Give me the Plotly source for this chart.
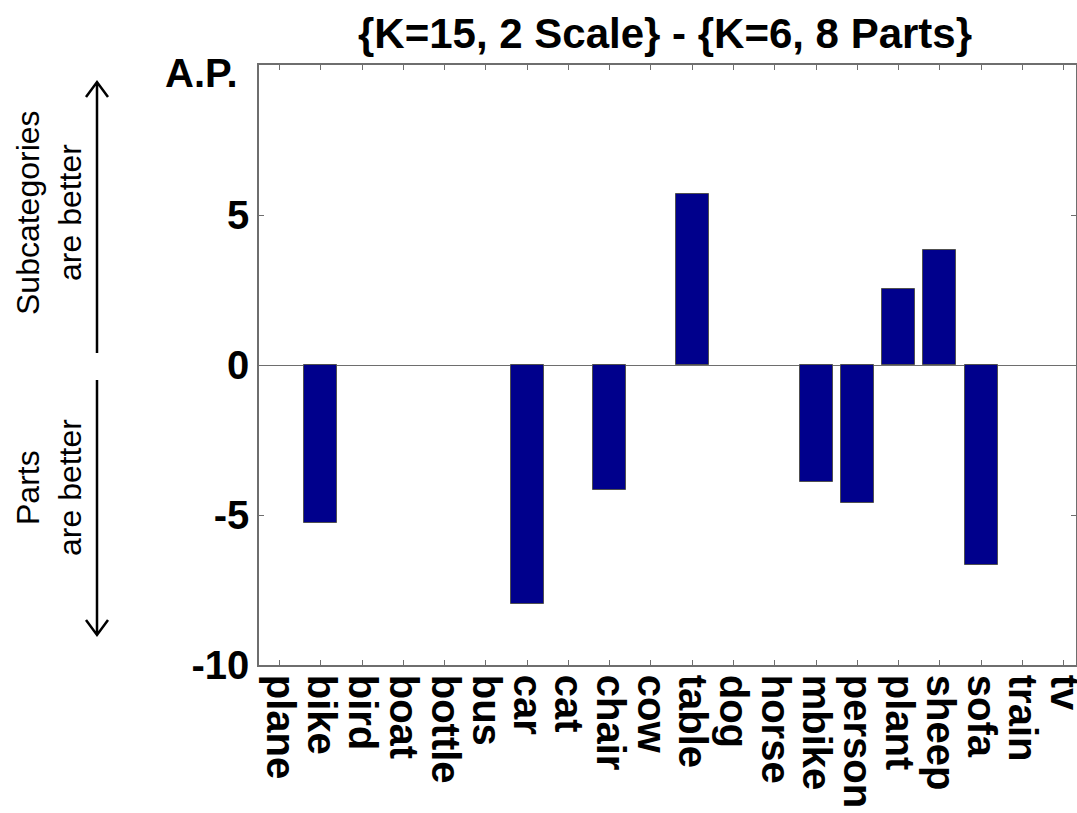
import plotly.graph_objects as go

# Per-class AP difference: {K=15, 2 Scale} minus {K=6, 8 Parts}
categories = ["plane", "bike", "bird", "boat", "bottle", "bus", "car", "cat",
              "chair", "cow", "table", "dog", "horse", "mbike", "person",
              "plant", "sheep", "sofa", "train", "tv"]
ap_diff = [0.0, -5.28, 0.0, 0.0, 0.0, 0.0, -7.97, 0.0,
           -4.17, 0.0, 5.69, 0.0, 0.0, -3.9, -4.6,
           2.55, 3.83, -6.66, 0.0, 0.0]
y_tick_vals = [-10, -5, 0, 5, 10]
y_tick_text = ["-10", "-5", "0", "5", ""]

W, H = 1077, 813
L, R, T, B = 259, 1, 65, 148
PW, PH = W - L - R, H - T - B

FONT = "Liberation Sans, Arial, Helvetica, sans-serif"
AXIS_COL = "#6e6e6e"
BAR_COL = "rgb(0,0,140)"

x_pos = list(range(1, len(categories) + 1))
unit_px = 41.26  # horizontal pixels per category slot


def px_x(x):
    return (x - L) / PW


def px_y(y):
    return (H - B - y) / PH


# empty bars collapse onto the baseline, so give them no outline
edge_w = [1 if v != 0 else 0 for v in ap_diff]

fig = go.Figure()
fig.add_trace(go.Bar(
    x=x_pos, y=ap_diff, width=0.8,
    marker=dict(color=BAR_COL, line=dict(color="#505050", width=edge_w)),
    showlegend=False, hoverinfo="skip",
))

axis_common = dict(
    showline=True, linecolor=AXIS_COL, linewidth=1.5, mirror="allticks",
    ticks="inside", ticklen=5, tickcolor=AXIS_COL, tickwidth=1,
    showgrid=False,
    tickfont=dict(family=FONT, size=40, color="black", weight="bold"),
)

fig.update_layout(
    width=W, height=H,
    margin=dict(l=L, r=R, t=T, b=B, autoexpand=False),
    paper_bgcolor="white", plot_bgcolor="white",
    bargap=0,
    xaxis=dict(
        range=[0.5, 0.5 + PW / unit_px],
        tickmode="array", tickvals=x_pos, ticktext=categories,
        tickangle=90, zeroline=False, ticklabeloverflow="allow",
        **axis_common,
    ),
    yaxis=dict(
        range=[-10, 10], tickmode="array",
        tickvals=y_tick_vals, ticktext=y_tick_text,
        zeroline=True, zerolinecolor=AXIS_COL, zerolinewidth=1,
        ticklabelstandoff=0,
        **axis_common,
    ),
)

annotations = [
    dict(text="{K=15, 2 Scale} - {K=6, 8 Parts}", x=px_x(665), y=px_y(34),
         font=dict(family=FONT, size=42, color="black", weight="bold")),
    dict(text="A.P.", x=px_x(240), y=px_y(73), xanchor="right",
         font=dict(family=FONT, size=40, color="black", weight="bold")),
    dict(text="Subcategories", x=px_x(28), y=px_y(213), textangle=-90,
         font=dict(family=FONT, size=32, color="black")),
    dict(text="are better", x=px_x(70), y=px_y(213), textangle=-90,
         font=dict(family=FONT, size=32, color="black")),
    dict(text="Parts", x=px_x(28), y=px_y(488), textangle=-90,
         font=dict(family=FONT, size=32, color="black")),
    dict(text="are better", x=px_x(70), y=px_y(488), textangle=-90,
         font=dict(family=FONT, size=32, color="black")),
]
for a in annotations:
    a.setdefault("xanchor", "center")
    a.update(xref="paper", yref="paper", yanchor="middle", showarrow=False)
fig.update_layout(annotations=annotations)


def arrow_path(x, y_tail, y_tip, head_w=11, head_h=15):
    d = 1 if y_tail > y_tip else -1
    pts = [
        f"M {px_x(x)},{px_y(y_tail)} L {px_x(x)},{px_y(y_tip)}",
        f"M {px_x(x - head_w)},{px_y(y_tip + d * head_h)} "
        f"L {px_x(x)},{px_y(y_tip)} L {px_x(x + head_w)},{px_y(y_tip + d * head_h)}",
    ]
    return " ".join(pts)


for tail, tip in [(353, 82), (380, 635)]:
    fig.add_shape(type="path", xref="paper", yref="paper",
                  path=arrow_path(97, tail, tip),
                  line=dict(color="black", width=2.5))

fig.write_html("out.html")
